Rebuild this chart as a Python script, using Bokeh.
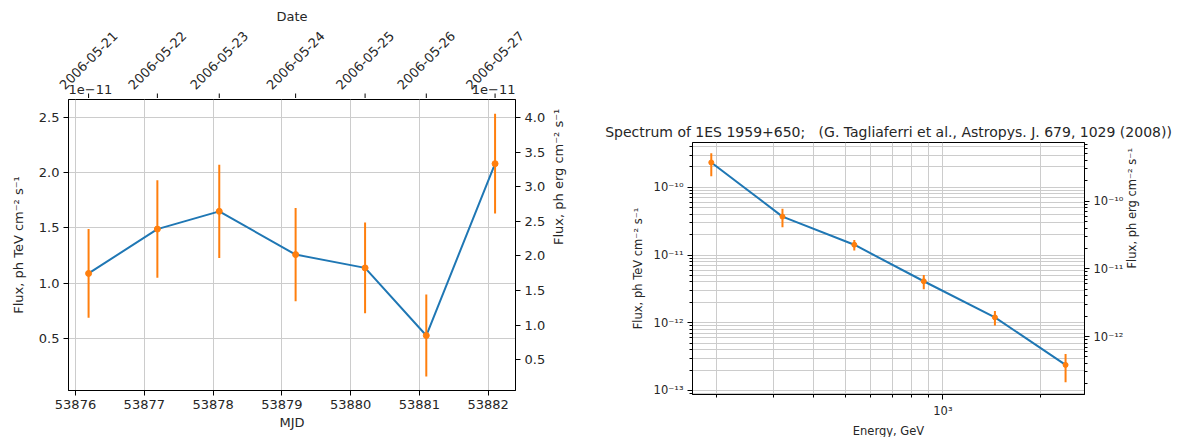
import math
from bokeh.plotting import figure
from bokeh.models import (Range1d, LinearAxis, LogAxis, LogScale, FixedTicker,
                          CustomJSTickFormatter, NumeralTickFormatter,
                          ColumnDataSource)
from bokeh.layouts import row, column
from bokeh.core.properties import value
from bokeh.embed import file_html
from bokeh.resources import INLINE

# ---------------- data ----------------
mjd = [53876.19, 53877.19, 53878.09, 53879.20, 53880.21, 53881.10, 53882.10]
dates = ["2006-05-21", "2006-05-22", "2006-05-23", "2006-05-24",
         "2006-05-25", "2006-05-26", "2006-05-27"]
flux_e11 = [1.09, 1.49, 1.65, 1.26, 1.14, 0.53, 2.08]      # x 1e-11 ph TeV cm^-2 s^-1
flux_err_e11 = [0.40, 0.44, 0.42, 0.42, 0.41, 0.37, 0.45]

energy = [193, 320, 533, 873, 1447, 2390]                   # GeV
sed = [2.33e-10, 3.70e-11, 1.42e-11, 4.10e-12, 1.20e-12, 2.38e-13]
sed_err = [0.87e-10, 1.12e-11, 0.255e-11, 0.98e-12, 0.29e-12, 1.06e-13]

mjd_ticks = [53876, 53877, 53878, 53879, 53880, 53881, 53882]
left_ticks = [0.5, 1.0, 1.5, 2.0, 2.5]
right_ticks = [0.5, 1.0, 1.5, 2.0, 2.5, 3.0, 3.5, 4.0]
energy_major = [1000]
energy_minor = [200, 300, 400, 500, 600, 700, 800, 900, 2000, 3000]
flux_major = [1e-13, 1e-12, 1e-11, 1e-10]
flux_minor = [m * 10.0 ** k for k in range(-14, -9) for m in range(2, 10)]
TEV_TO_ERG = 1.602
OFFSET_TEXT = "1e\u221211"

FONT = "DejaVu Sans"
TXT = "#262626"
GRID = "#cccccc"
BLUE = "#1f77b4"
ORANGE = "#ff7f0e"


def style_axis(ax, size):
    ax.major_label_text_font = FONT
    ax.major_label_text_font_size = size
    ax.major_label_text_color = TXT
    ax.axis_label_text_font = FONT
    ax.axis_label_text_font_size = size
    ax.axis_label_text_font_style = "normal"
    ax.axis_label_text_color = TXT
    ax.axis_line_color = "black"
    ax.major_tick_line_color = "black"
    ax.minor_tick_line_color = "black"
    ax.major_tick_in = 0
    ax.major_tick_out = 5
    ax.minor_tick_in = 0
    ax.minor_tick_out = 3
    ax.major_label_standoff = 4
    ax.axis_label_standoff = 6


def upward_label(ax):
    try:
        ax.axis_label_orientation = math.pi / 2
    except Exception:
        pass


pow_fmt = CustomJSTickFormatter(code="""
const e = Math.round(Math.log10(tick));
const sup = {'-':'\u207b','0':'\u2070','1':'\u00b9','2':'\u00b2','3':'\u00b3',
             '4':'\u2074','5':'\u2075','6':'\u2076','7':'\u2077','8':'\u2078','9':'\u2079'};
return '10' + String(e).split('').map(c => sup[c]).join('');
""")

# ---------------- left: light curve ----------------
LB, LF, RB = 68, 447, 85          # left border, frame width, right border (px)
x0, x1 = 53875.898, 53882.397
y0, y1 = 0.034, 2.659
TOP_H = 98

p1 = figure(frame_width=LF, frame_height=291,
            x_range=Range1d(x0, x1), y_range=Range1d(y0, y1),
            output_backend="svg", toolbar_location=None,
            min_border_left=LB, min_border_right=RB,
            min_border_top=1, min_border_bottom=47)
p1.extra_y_ranges = {"erg": Range1d(y0 * TEV_TO_ERG, y1 * TEV_TO_ERG)}
p1.outline_line_color = "black"

p1.xaxis.ticker = FixedTicker(ticks=mjd_ticks)
p1.xaxis.formatter = NumeralTickFormatter(format="0")
p1.xaxis.axis_label = "MJD"
p1.yaxis.ticker = FixedTicker(ticks=left_ticks)
p1.yaxis.formatter = NumeralTickFormatter(format="0.0")
p1.yaxis.axis_label = "Flux, ph TeV cm\u207b\u00b2 s\u207b\u00b9"
style_axis(p1.xaxis[0], "13px")
style_axis(p1.yaxis[0], "13px")
p1.xaxis[0].axis_label_standoff = 3
p1.yaxis[0].axis_label_standoff = 10

ax_r = LinearAxis(y_range_name="erg", ticker=FixedTicker(ticks=right_ticks),
                  formatter=NumeralTickFormatter(format="0.0"),
                  axis_label="Flux, ph erg cm\u207b\u00b2 s\u207b\u00b9")
style_axis(ax_r, "13px")
ax_r.axis_label_standoff = 10
upward_label(ax_r)
p1.add_layout(ax_r, "right")

p1.xgrid.grid_line_color = GRID
p1.ygrid.grid_line_color = GRID

src1 = ColumnDataSource(dict(
    x=mjd, y=flux_e11,
    lo=[f - e for f, e in zip(flux_e11, flux_err_e11)],
    hi=[f + e for f, e in zip(flux_e11, flux_err_e11)]))
p1.line("x", "y", source=src1, line_color=BLUE, line_width=2)
p1.segment(x0="x", y0="lo", x1="x", y1="hi", source=src1,
           line_color=ORANGE, line_width=2)
p1.scatter("x", "y", source=src1, size=6, color=ORANGE)

# top strip: "Date" axis (ticks + rotated date labels) and offset texts,
# sharing the light curve's x scale (same px per day)
k = (x1 - x0) / LF
ptop = figure(width=LB + LF + RB, height=TOP_H,
              x_range=Range1d(x0 - LB * k, x1 + RB * k), y_range=Range1d(0, TOP_H),
              output_backend="svg", toolbar_location=None,
              x_axis_location=None, y_axis_location=None,
              min_border=0, min_border_left=0, min_border_right=0,
              min_border_top=0, min_border_bottom=0)
ptop.outline_line_color = None
ptop.grid.visible = False
srct = ColumnDataSource(dict(x=mjd, d=dates))
ptop.segment(x0="x", y0=-2, x1="x", y1=5, source=srct,
             line_color="black", line_width=1)
ptop.text(x="x", y=TOP_H - 60, text="d", source=srct, angle=math.pi / 4,
          text_align="center", text_baseline="middle",
          text_font=value(FONT), text_font_size="13px", text_color=TXT)
ptop.text(x=[(x0 + x1) / 2], y=[TOP_H - 16], text=["Date"],
          text_align="center", text_baseline="middle",
          text_font=value(FONT), text_font_size="13px", text_color=TXT)
ptop.text(x=[x0, x1], y=[9, 9], text=[OFFSET_TEXT, OFFSET_TEXT],
          text_align=["left", "right"], text_baseline="middle",
          text_font=value(FONT), text_font_size="13px", text_color=TXT)

left_col = column(row(ptop, spacing=0), p1, spacing=0)

# ---------------- right: spectrum ----------------
e0, e1 = 168.9, 2734
f0, f1 = 8.7e-14, 4.6e-10
p2 = figure(frame_width=392, frame_height=252,
            x_axis_type="log", y_axis_type="log",
            x_range=Range1d(e0, e1), y_range=Range1d(f0, f1),
            output_backend="svg", toolbar_location=None,
            min_border_left=92, min_border_right=95,
            min_border_top=142, min_border_bottom=43,
            title="Spectrum of 1ES 1959+650;\u00a0\u00a0\u00a0(G. Tagliaferri et al., Astropys. J. 679, 1029 (2008))")
p2.title.text_font = FONT
p2.title.text_font_size = "14px"
p2.title.text_font_style = "normal"
p2.title.text_color = TXT
p2.title.align = "center"
p2.title.standoff = 6
p2.outline_line_color = "black"
p2.extra_y_ranges = {"erg": Range1d(f0 * TEV_TO_ERG, f1 * TEV_TO_ERG)}
p2.extra_y_scales = {"erg": LogScale()}

p2.xaxis.ticker = FixedTicker(ticks=energy_major, minor_ticks=energy_minor)
p2.xaxis.formatter = pow_fmt
p2.xaxis.axis_label = "Energy, GeV"
p2.yaxis.ticker = FixedTicker(ticks=flux_major, minor_ticks=flux_minor)
p2.yaxis.formatter = pow_fmt
p2.yaxis.axis_label = "Flux, ph TeV cm\u207b\u00b2 s\u207b\u00b9"
style_axis(p2.xaxis[0], "11.5px")
style_axis(p2.yaxis[0], "11.5px")
p2.xaxis[0].axis_label_standoff = 3

ax2_r = LogAxis(y_range_name="erg",
                ticker=FixedTicker(ticks=flux_major, minor_ticks=flux_minor),
                formatter=pow_fmt,
                axis_label="Flux, ph erg cm\u207b\u00b2 s\u207b\u00b9")
style_axis(ax2_r, "11.5px")
upward_label(ax2_r)
p2.add_layout(ax2_r, "right")

p2.xgrid.grid_line_color = GRID
p2.ygrid.grid_line_color = GRID
p2.xgrid.minor_grid_line_color = GRID
p2.ygrid.minor_grid_line_color = GRID

src2 = ColumnDataSource(dict(
    x=energy, y=sed,
    lo=[f - e for f, e in zip(sed, sed_err)],
    hi=[f + e for f, e in zip(sed, sed_err)]))
p2.line("x", "y", source=src2, line_color=BLUE, line_width=2)
p2.segment(x0="x", y0="lo", x1="x", y1="hi", source=src2,
           line_color=ORANGE, line_width=2)
p2.scatter("x", "y", source=src2, size=5, color=ORANGE)

layout = row(left_col, p2, spacing=0)
open("out.html", "w").write(file_html(layout, INLINE))
